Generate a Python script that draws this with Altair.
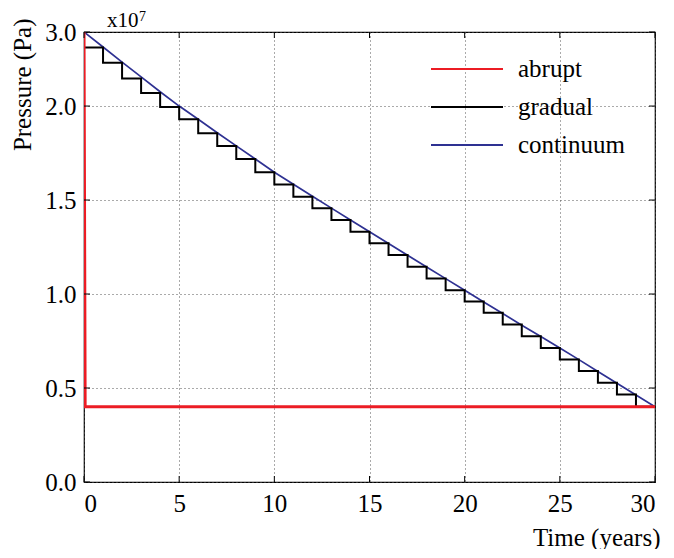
import altair as alt
import pandas as pd

# ---- data (pressure in units of 1e7 Pa, time in years) ----
series_names = ["abrupt", "gradual", "continuum"]
series_colors = ["#ec1c24", "#000000", "#2e3192"]

abrupt_t = [0.0, 0.06, 30.0]
abrupt_p = [2.394, 0.40, 0.40]

gradual_edges = list(range(31))
gradual_levels = [2.312, 2.230, 2.147, 2.069, 1.995, 1.930, 1.856, 1.787, 1.718, 1.648,
                  1.583, 1.518, 1.456, 1.394, 1.331, 1.270, 1.208, 1.145, 1.083, 1.020,
                  0.960, 0.900, 0.838, 0.776, 0.713, 0.652, 0.590, 0.528, 0.466, 0.400]

continuum_t = list(range(31))
continuum_p = [2.394, 2.314, 2.234, 2.155, 2.076, 2.000, 1.930, 1.858, 1.788, 1.718,
               1.648, 1.584, 1.520, 1.457, 1.394, 1.331, 1.269, 1.206, 1.144, 1.082,
               1.020, 0.958, 0.896, 0.834, 0.774, 0.713, 0.651, 0.588, 0.525, 0.463,
               0.400]

x_ticks = [0, 5, 10, 15, 20, 25, 30]
y_ticks = [0.0, 0.5, 1.0, 1.5, 2.0, 2.394]
y_tick_labels = ["0.0", "0.5", "1.0", "1.5", "2.0", "3.0"]

W, H = 571, 450
FONT = "'Liberation Serif', 'Times New Roman', Times, serif"

rows = []
for i, (t, p) in enumerate(zip(abrupt_t, abrupt_p)):
    rows.append({"series": "abrupt", "t": t, "p": p, "i": i})
k = 0
for n, lev in enumerate(gradual_levels):
    rows.append({"series": "gradual", "t": gradual_edges[n], "p": lev, "i": k}); k += 1
    rows.append({"series": "gradual", "t": gradual_edges[n + 1], "p": lev, "i": k}); k += 1
for i, (t, p) in enumerate(zip(continuum_t, continuum_p)):
    rows.append({"series": "continuum", "t": t, "p": p, "i": i})
df = pd.DataFrame(rows)

xscale = alt.Scale(domain=[0, 30], nice=False, zero=False)
yscale = alt.Scale(domain=[0, y_ticks[-1]], nice=False, zero=False)
cscale = alt.Scale(domain=series_names, range=series_colors)

label_expr = "".join(
    f"abs(datum.value - {v}) < 0.001 ? '{l}' : " for v, l in zip(y_ticks, y_tick_labels)
) + "''"

xaxis = alt.Axis(values=x_ticks, format="d", labelPadding=9, title="Time (years)",
                 titleX=576, titleY=63, titleAlign="right", titleBaseline="alphabetic",
                 titleAnchor="end")
yaxis = alt.Axis(values=y_ticks, labelExpr=label_expr, labelPadding=8, title="Pressure (Pa)",
                 titleX=-62, titleY=-14, titleAngle=-90, titleAlign="right",
                 titleBaseline="middle", titleAnchor="end")

legend = alt.Legend(title=None, orient="none", legendX=370, legendY=24,
                    symbolType="M-3,0H3", symbolSize=576, symbolStrokeWidth=2,
                    labelFontSize=25, labelFont=FONT, labelColor="black",
                    labelOffset=38, rowPadding=12)

base = alt.Chart(df)


def line_layer(name, width):
    return base.transform_filter(alt.datum.series == name).mark_line(
        strokeWidth=width, clip=True
    ).encode(
        x=alt.X("t:Q", scale=xscale, axis=xaxis),
        y=alt.Y("p:Q", scale=yscale, axis=yaxis),
        color=alt.Color("series:N", scale=cscale, legend=legend),
        order=alt.Order("i:Q"),
    )


continuum = line_layer("continuum", 1.7)
gradual = line_layer("gradual", 2.0)
abrupt = line_layer("abrupt", 3.0)

xt = pd.DataFrame({"t": x_ticks})
yt = pd.DataFrame({"p": y_ticks})
tick_x_bottom = alt.Chart(xt).mark_rule(color="black", strokeWidth=1).encode(
    x=alt.X("t:Q", scale=xscale), y=alt.value(H), y2=alt.value(H - 6))
tick_x_top = alt.Chart(xt).mark_rule(color="black", strokeWidth=1).encode(
    x=alt.X("t:Q", scale=xscale), y=alt.value(0), y2=alt.value(6))
tick_y_left = alt.Chart(yt).mark_rule(color="black", strokeWidth=1).encode(
    y=alt.Y("p:Q", scale=yscale), x=alt.value(0), x2=alt.value(6))
tick_y_right = alt.Chart(yt).mark_rule(color="black", strokeWidth=1).encode(
    y=alt.Y("p:Q", scale=yscale), x=alt.value(W - 6), x2=alt.value(W))

mult = alt.Chart(pd.DataFrame({"s": ["x10"]})).mark_text(
    font=FONT, fontSize=21, align="left", baseline="alphabetic", color="black"
).encode(text="s:N", x=alt.value(23), y=alt.value(-5))
expo = alt.Chart(pd.DataFrame({"s": ["7"]})).mark_text(
    font=FONT, fontSize=14, align="left", baseline="alphabetic", color="black"
).encode(text="s:N", x=alt.value(55), y=alt.value(-11))

chart = alt.layer(
    continuum, gradual, abrupt,
    tick_x_bottom, tick_x_top, tick_y_left, tick_y_right, mult, expo
).properties(
    width=W, height=H,
    autosize=alt.AutoSizeParams(type="none"),
    padding={"left": 76, "top": 24, "right": 11, "bottom": 67},
).configure_view(
    stroke="black", strokeWidth=1.2
).configure_axis(
    labelFont=FONT, titleFont=FONT, labelFontSize=25, titleFontSize=25,
    titleFontWeight="normal", labelColor="black", titleColor="black",
    domain=False, ticks=False, gridColor="#555555", gridDash=[1, 3],
    gridWidth=1, gridOpacity=1,
).configure_text(font=FONT)

chart.save("out.html", embed_options={"renderer": "svg", "actions": False})
